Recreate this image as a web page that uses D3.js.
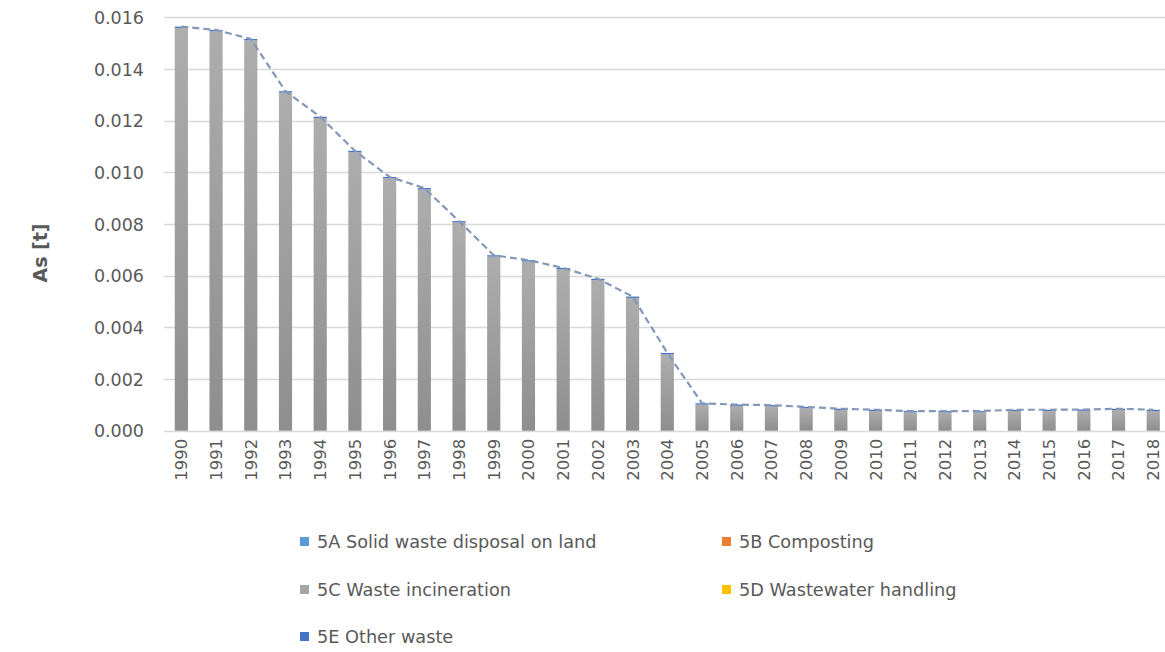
<!DOCTYPE html>
<html>
<head>
<meta charset="utf-8">
<script src="https://cdn.jsdelivr.net/npm/d3@7"></script>
<style>
  html, body { margin: 0; padding: 0; background: #fff; }
  svg { display: block; }
  text { font-family: "DejaVu Sans", sans-serif; fill: #595959; }
</style>
</head>
<body>
<svg id="chart" width="1165" height="652"></svg>
<script>
// ---- Data ----
const years = ["1990","1991","1992","1993","1994","1995","1996","1997","1998","1999",
  "2000","2001","2002","2003","2004","2005","2006","2007","2008","2009",
  "2010","2011","2012","2013","2014","2015","2016","2017","2018"];
const solidWaste5A = [0,0,0,0,0,0,0,0,0,0,0,0,0,0,0,0,0,0,0,0,0,0,0,0,0,0,0,0,0];
const composting5B = [0,0,0,0,0,0,0,0,0,0,0,0,0,0,0,0,0,0,0,0,0,0,0,0,0,0,0,0,0];
const incineration5C = [0.01559,0.01546,0.01511,0.01309,0.01210,0.01078,0.00977,0.00934,0.00806,0.00674,
  0.00655,0.00625,0.00583,0.00514,0.00296,0.00101,0.00096,0.00094,0.00087,0.00080,
  0.00076,0.00071,0.00071,0.00071,0.00076,0.00076,0.00077,0.00080,0.00076];
const wastewater5D = [0,0,0,0,0,0,0,0,0,0,0,0,0,0,0,0,0,0,0,0,0,0,0,0,0,0,0,0,0];
const otherWaste5E = [0.00005,0.00005,0.00005,0.00005,0.00005,0.00005,0.00005,0.00005,0.00005,0.00005,
  0.00005,0.00005,0.00005,0.00005,0.00005,0.00005,0.00005,0.00005,0.00005,0.00005,
  0.00005,0.00005,0.00005,0.00005,0.00005,0.00005,0.00005,0.00005,0.00005];
const yTicks = [0, 0.002, 0.004, 0.006, 0.008, 0.010, 0.012, 0.014, 0.016];
const seriesNames = ["5A Solid waste disposal on land","5B Composting","5C Waste incineration","5D Wastewater handling","5E Other waste"];
const seriesColors = ["#5b9bd5","#ed7d31","#a5a5a5","#ffc000","#4472c4"];
const yTitle = "As [t]";

// ---- Build table ----
const seriesArrays = [solidWaste5A, composting5B, incineration5C, wastewater5D, otherWaste5E];
const table = years.map((y, i) => {
  const row = { year: y };
  seriesNames.forEach((n, k) => row[n] = seriesArrays[k][i]);
  return row;
});
const totals = years.map((y, i) => d3.sum(seriesArrays, a => a[i]));

// ---- Layout ----
const svg = d3.select("#chart");
const plot = { left: 164, right: 1170.6, top: 17.3, bottom: 430.7 };

const x = d3.scaleBand().domain(years).range([plot.left, plot.right]).paddingInner(0.62).paddingOuter(0.31);
const y = d3.scaleLinear().domain([0, 0.016]).range([plot.bottom, plot.top]);

// gradient for grey bars
const defs = svg.append("defs");
const grad = defs.append("linearGradient").attr("id", "greyGrad").attr("x1", 0).attr("y1", 0).attr("x2", 0).attr("y2", 1);
grad.append("stop").attr("offset", "0%").attr("stop-color", "#adadad");
grad.append("stop").attr("offset", "100%").attr("stop-color", "#8e8e8e");

// gridlines
svg.append("g")
  .selectAll("line").data(yTicks).join("line")
  .attr("x1", plot.left).attr("x2", 1165)
  .attr("y1", d => Math.round(y(d)) + 0.5).attr("y2", d => Math.round(y(d)) + 0.5)
  .attr("stroke", "#d9d9d9").attr("stroke-width", 1.5);

// y axis labels
const yAxis = d3.axisLeft(y).tickValues(yTicks).tickFormat(d3.format(".3f")).tickSize(0).tickPadding(0);
const yg = svg.append("g").attr("transform", `translate(${plot.left - 20},0)`).call(yAxis);
yg.select(".domain").remove();
yg.selectAll("text").style("font-size", "17.5px").style("font-family", "DejaVu Sans").attr("fill", "#595959").attr("dy", "0.35em");

// stacked bars
const stack = d3.stack().keys(seriesNames);
const stacked = stack(table);
svg.append("g").selectAll("g").data(stacked).join("g")
  .attr("fill", (d, k) => k === 2 ? "url(#greyGrad)" : seriesColors[k])
  .selectAll("rect").data(d => d).join("rect")
  .attr("x", d => x(d.data.year))
  .attr("width", x.bandwidth())
  .attr("y", d => y(d[1]))
  .attr("height", d => Math.max(0, y(d[0]) - y(d[1])));

// x axis labels
const xAxis = d3.axisBottom(x).tickSize(0).tickPadding(0);
const xg = svg.append("g").attr("transform", `translate(0,${plot.bottom})`).call(xAxis);
xg.select(".domain").remove();
xg.selectAll("text")
  .style("font-size", "16.5px").style("font-family", "DejaVu Sans").attr("fill", "#595959")
  .attr("transform", "rotate(-90)")
  .attr("text-anchor", "end")
  .attr("x", -8).attr("y", 0).attr("dy", "0.36em");

// total line
const line = d3.line().x((d, i) => x(years[i]) + x.bandwidth() / 2).y(d => y(d));
svg.append("path").datum(totals)
  .attr("d", line)
  .attr("fill", "none")
  .attr("stroke", "#8497b8")
  .attr("stroke-width", 2.2)
  .attr("stroke-dasharray", "7,4");

// y title
svg.append("text")
  .attr("transform", `translate(47,253) rotate(-90)`)
  .attr("text-anchor", "middle")
  .style("font-size", "19px").style("font-weight", "bold")
  .text(yTitle);

// legend
const legendPos = [[300, 542], [722, 542], [300, 590], [722, 590], [300, 637]];
const lg = svg.append("g").selectAll("g").data(seriesNames).join("g")
  .attr("transform", (d, i) => `translate(${legendPos[i][0]},${legendPos[i][1]})`);
lg.append("rect").attr("x", 0).attr("y", -5).attr("width", 9).attr("height", 9)
  .attr("fill", (d, i) => seriesColors[i]);
lg.append("text").attr("x", 17).attr("y", 0).attr("dy", "0.35em")
  .style("font-size", "17.7px").text(d => d);
</script>
</body>
</html>
